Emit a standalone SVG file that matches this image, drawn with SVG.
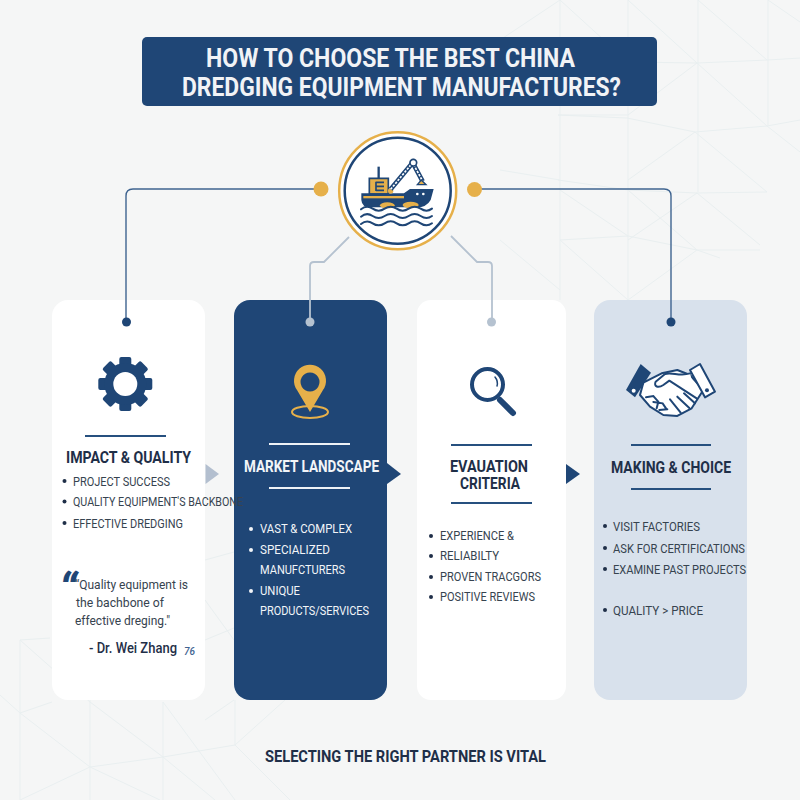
<svg xmlns="http://www.w3.org/2000/svg" width="800" height="800" viewBox="0 0 800 800">
<style>
text{font-family:Roboto,"Liberation Sans",sans-serif;fill:#36434f;font-size:13px}
.ttl{font-weight:700;font-size:25px;fill:#f1f3f6}
.h{font-weight:700;font-size:16px;fill:#1f2f48}
.w{fill:#f2f5f8}
.rule{stroke:#26507f;stroke-width:2;fill:none}
.rw{stroke:#eef2f6;stroke-width:2;fill:none}
.nv{fill:#1f4676}
.gd{fill:#e6b04a}
.lnb{fill:none;stroke:#3f6490;stroke-width:1.4}
.lng{fill:none;stroke:#b5c2d0;stroke-width:1.8}
.bl{fill:#1f2f48}
.blw{fill:#f2f5f8}
.bg{fill:none;stroke:#e9eff0;stroke-width:1}
</style>
<rect width="800" height="800" fill="#f5f6f6"/>
<g id="background-lines">
<path class="bg" d="M560 0V300M628 0V300M698 0V192M768 0V126M560 0L628 62L697 63L768 60L800 58M628 0L697 63M698 0L767 60M768 0L800 22M560 0L500 40M697 63L628 115L558 115L627 118L695 132L767 126L800 120M697 63L767 126L800 152M628 180L695 132M767 192L695 132M558 180L628 190L697 193L767 192M560 180L500 170M628 190L697 250L760 250M628 240L697 193L760 245M560 240L628 236L697 250L720 258M560 240L628 300M628 236L560 190M697 250L628 300M500 240L560 290"/>
<path class="bg" d="M20 640V800M90 700V800M163 702V800M235 700V745M20 640L50 638M20 713L52 702M20 640L90 702L163 757L235 745L285 700M20 713L90 767L163 757M20 713L0 695M90 767L20 800M90 767L160 800M163 757L215 800M163 702L235 800M235 745L290 800M205 640L234 628M205 600L234 640M205 560L234 552M205 720L234 700"/>
</g>
<g id="header">
<rect x="142" y="37" width="515" height="69" rx="5" fill="#1f4676"/>
<text class="ttl" x="206" y="67" textLength="369" lengthAdjust="spacingAndGlyphs">HOW TO CHOOSE THE BEST CHINA</text>
<text class="ttl" x="182" y="96" textLength="439" lengthAdjust="spacingAndGlyphs">DREDGING EQUIPMENT MANUFACTURES?</text>
</g>
<g id="card-2">
<rect x="234" y="300" width="153" height="400" rx="16" fill="#1f4676"/>
<g id="pin">
<path class="gd" fill-rule="evenodd" d="M310 412L297 390A16 16 0 1 1 323 390ZM310 372.500a9.500 9.500 0 1 0 .01 0Z"/>
<ellipse cx="310" cy="412" rx="18" ry="6" fill="none" stroke="#e6b04a" stroke-width="2"/>
</g>
<path class="rw" d="M269 444H350M269 488H350"/>
<text class="h w" x="244" y="472" textLength="135" lengthAdjust="spacingAndGlyphs">MARKET LANDSCAPE</text>
<circle class="blw" cx="251" cy="529" r="2"/><text class="w" x="260" y="533" textLength="92" lengthAdjust="spacingAndGlyphs">VAST &amp; COMPLEX</text>
<circle class="blw" cx="251" cy="550" r="2"/><text class="w" x="260" y="554" textLength="70" lengthAdjust="spacingAndGlyphs">SPECIALIZED</text>
<text class="w" x="260" y="574" textLength="85" lengthAdjust="spacingAndGlyphs">MANUFCTURERS</text>
<circle class="blw" cx="251" cy="591" r="2"/><text class="w" x="260" y="595" textLength="40" lengthAdjust="spacingAndGlyphs">UNIQUE</text>
<text class="w" x="260" y="615" textLength="109" lengthAdjust="spacingAndGlyphs">PRODUCTS/SERVICES</text>
</g>
<g id="card-1">
<rect x="52" y="300" width="153" height="400" rx="16" fill="#fff"/>
<g id="gear" transform="translate(125.300 384)">
<g class="nv">
<rect x="-6" y="-27" width="12" height="54" rx="2"/>
<rect x="-6" y="-27" width="12" height="54" rx="2" transform="rotate(45)"/>
<rect x="-6" y="-27" width="12" height="54" rx="2" transform="rotate(90)"/>
<rect x="-6" y="-27" width="12" height="54" rx="2" transform="rotate(135)"/>
<circle r="21"/>
</g>
<circle r="12" fill="#fff"/>
</g>
<path class="rule" d="M85 436H166"/>
<text class="h" x="66" y="463" textLength="125" lengthAdjust="spacingAndGlyphs">IMPACT &amp; QUALITY</text>
<circle class="bl" cx="64.500" cy="481" r="2"/><text x="73" y="486" textLength="97" lengthAdjust="spacingAndGlyphs">PROJECT SUCCESS</text>
<circle class="bl" cx="64.500" cy="501.500" r="2"/><text x="73" y="506" textLength="170" lengthAdjust="spacingAndGlyphs">QUALITY EQUIPMENT'S BACKBONE</text>
<circle class="bl" cx="64.500" cy="523" r="2"/><text x="73" y="528" textLength="110" lengthAdjust="spacingAndGlyphs">EFFECTIVE DREDGING</text>
<text x="59" y="605" style="font-size:44px;font-style:italic;font-weight:900;fill:#1f4676">“</text>
<text x="75" y="589" textLength="113" lengthAdjust="spacingAndGlyphs">“Quality equipment is</text>
<text x="76" y="607" textLength="88" lengthAdjust="spacingAndGlyphs">the bachbone of</text>
<text x="75" y="625" textLength="95" lengthAdjust="spacingAndGlyphs">effective dreging."</text>
<text x="89" y="653" textLength="88" lengthAdjust="spacingAndGlyphs" style="font-size:15px;font-weight:500;fill:#1f2f48">- Dr. Wei Zhang</text>
<text x="184" y="655" textLength="11" lengthAdjust="spacingAndGlyphs" style="font-size:10px;font-style:italic;font-weight:500;fill:#3f6490">76</text>
</g>
<g id="card-3">
<rect x="417" y="300" width="149" height="400" rx="14" fill="#fff"/>
<g id="magnifier" fill="none" stroke="#1f4676" stroke-linecap="round">
<circle cx="487.500" cy="384.500" r="15.500" stroke-width="4"/>
<path d="M500 400L513 413" stroke-width="6"/>
<path d="M495 377A10 10 0 0 1 497 386" stroke-width="1.500"/>
</g>
<path class="rule" d="M451 445H532M451 503H532"/>
<text class="h" x="450" y="472" textLength="78" lengthAdjust="spacingAndGlyphs">EVAUATION</text>
<text class="h" x="460" y="489" textLength="60" lengthAdjust="spacingAndGlyphs">CRITERIA</text>
<circle class="bl" cx="431" cy="536" r="2"/><text x="440" y="540" textLength="74" lengthAdjust="spacingAndGlyphs">EXPERIENCE &amp;</text>
<circle class="bl" cx="431" cy="556" r="2"/><text x="440" y="560" textLength="59" lengthAdjust="spacingAndGlyphs">RELIABILTY</text>
<circle class="bl" cx="431" cy="577" r="2"/><text x="440" y="581" textLength="101" lengthAdjust="spacingAndGlyphs">PROVEN TRACGORS</text>
<circle class="bl" cx="431" cy="597" r="2"/><text x="440" y="601" textLength="95" lengthAdjust="spacingAndGlyphs">POSITIVE REVIEWS</text>
</g>
<g id="card-4">
<rect x="594" y="300" width="153" height="400" rx="16" fill="#d8e1ec"/>
<g id="handshake" transform="translate(590 340) scale(.3333)">
<path d="M160 128L215 100L262 90L300 105L340 150L305 205L262 228L220 225L180 200L150 165Z" fill="#fff" stroke="#1f4676" stroke-width="6" stroke-linejoin="round"/>
<path d="M300 100C270 110 245 95 225 102L197 125C190 140 205 145 220 135L238 122L320 175" fill="#fff" stroke="#1f4676" stroke-width="6" stroke-linejoin="round" stroke-linecap="round"/>
<path d="M168 172L190 168L205 185L200 205M190 186L218 190L228 205M208 210L232 208M240 178L272 218M262 170L298 204M282 160L315 190" fill="none" stroke="#1f4676" stroke-width="6" stroke-linecap="round"/>
<path d="M152 72L183 98L135 172L108 150Z" fill="#1f4676"/>
<circle cx="131" cy="152" r="6" fill="#fff"/>
<path d="M330 72L375 155L345 172L300 90Z" fill="#fff" stroke="#1f4676" stroke-width="6" stroke-linejoin="round"/>
<circle cx="351" cy="151" r="6" fill="#1f4676"/>
</g>
<path class="rule" d="M631 445H711M631 489H711"/>
<text class="h" x="611" y="473" textLength="120" lengthAdjust="spacingAndGlyphs">MAKING &amp; CHOICE</text>
<circle class="bl" cx="605" cy="526" r="2"/><text x="613" y="531" textLength="87" lengthAdjust="spacingAndGlyphs">VISIT FACTORIES</text>
<circle class="bl" cx="605" cy="548" r="2"/><text x="613" y="553" textLength="132" lengthAdjust="spacingAndGlyphs">ASK FOR CERTIFICATIONS</text>
<circle class="bl" cx="605" cy="569" r="2"/><text x="613" y="574" textLength="133" lengthAdjust="spacingAndGlyphs">EXAMINE PAST PROJECTS</text>
<circle class="bl" cx="605" cy="610" r="2"/><text x="613" y="615" textLength="90" lengthAdjust="spacingAndGlyphs">QUALITY &gt; PRICE</text>
</g>
<g id="connectors">
<path class="lnb" d="M321 189H133Q126 189 126 196V322"/>
<path class="lnb" d="M474 189H664Q671 189 671 196V322"/>
<path class="lng" d="M349 237L324 262H314Q310 262 310 266V322"/>
<path class="lng" d="M451 236L477 262H488Q492 262 492 266V322"/>
<circle class="gd" cx="321" cy="189" r="7.500"/>
<circle class="gd" cx="474.500" cy="189.500" r="7.500"/>
<circle cx="126.500" cy="322" r="4.500" fill="#1f4676"/>
<circle cx="671" cy="322" r="4.500" fill="#1f4676"/>
<circle cx="310" cy="322" r="4.500" fill="#b5c2d0"/>
<circle cx="491.500" cy="322" r="4.500" fill="#b5c2d0"/>
<path d="M205.500 464L219 474L205.500 484Z" fill="#b3bfcf"/>
<path d="M387 463L401 474L387 484Z" fill="#1f4676"/>
<path d="M566 464L580 474L566 484Z" fill="#1f4676"/>
</g>
<g id="hub">
<circle cx="397.700" cy="190.700" r="58.500" fill="#fff" stroke="#e6b04a" stroke-width="2.500"/>
<circle cx="397.700" cy="190.700" r="53" fill="#fff" stroke="#1f4676" stroke-width="2.500"/>
<g id="dredger" transform="translate(280 120) scale(.3333)">
<path d="M296 140V175" stroke="#1f4676" stroke-width="7" fill="none"/>
<path d="M268 175H325V222H268Z" fill="#e6b04a" stroke="#1f4676" stroke-width="5"/>
<path d="M288 187H312M288 199H312M288 211H312M288 185V213" stroke="#1f4676" stroke-width="5" fill="none"/>
<path d="M244 220H372L390 207H461L452 240Q440 262 410 262H270Q246 262 244 240Z" fill="#1f4676"/>
<rect x="250" y="228" width="122" height="7" fill="#e6b04a"/>
<circle cx="332" cy="213" r="8" fill="#e6b04a"/>
<path d="M332 208L398 128L428 184" fill="none" stroke="#1f4676" stroke-width="14"/>
<path d="M332 208L398 128L428 184" fill="none" stroke="#fff" stroke-width="5" stroke-dasharray="7 4"/>
<path d="M412 194L424 180L438 194Z" fill="#e6b04a" stroke="#1f4676" stroke-width="4"/>
<circle cx="400" cy="128" r="10" fill="#fff" stroke="#1f4676" stroke-width="5"/>
<circle cx="412" cy="222" r="4" fill="#fff"/><circle cx="430" cy="222" r="4" fill="#fff"/>
<ellipse cx="322" cy="256" rx="22" ry="9" fill="#e6b04a"/>
<ellipse cx="392" cy="255" rx="24" ry="10" fill="#e6b04a"/>
<g fill="none" stroke="#1f4676" stroke-width="6" stroke-linecap="round">
<path d="M243 268Q260 254 278 266T314 266T350 266T386 266T422 266T456 266"/>
<path d="M243 290Q260 276 278 288T314 288T350 288T386 288T422 288T456 288"/>
<path d="M243 312Q260 298 278 310T314 310T350 310T386 310T422 310T456 310"/>
</g>
</g>
</g>
<g id="footer">
<text x="265" y="762" textLength="281" lengthAdjust="spacingAndGlyphs" style="font-size:16px;font-weight:700;fill:#1f2f48">SELECTING THE RIGHT PARTNER IS VITAL</text>
</g>
</svg>
